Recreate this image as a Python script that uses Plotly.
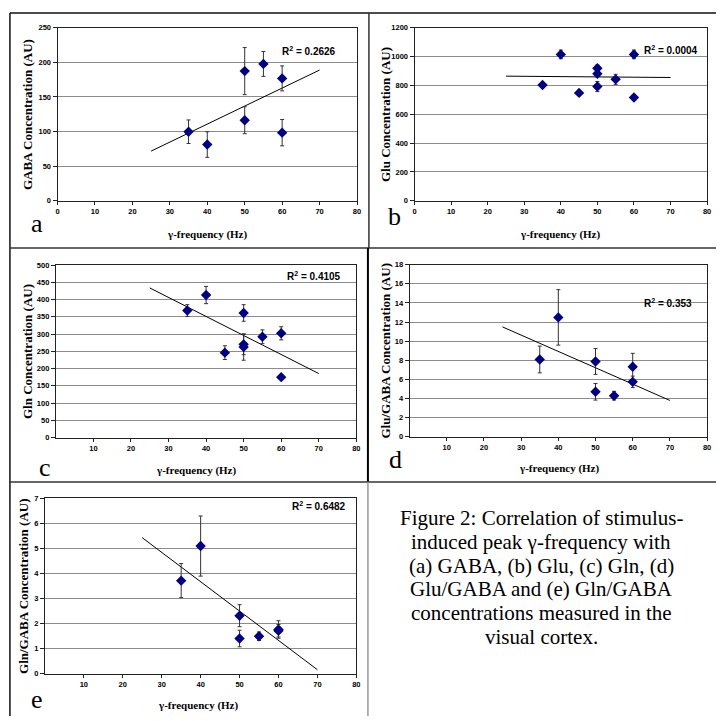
import numpy as np
import plotly.graph_objects as go

W, H = 720, 721

# ---------------- data ----------------
freq_a = [35, 40, 50, 50, 55, 60, 60]
gaba = [99.8, 81.3, 187.3, 116.4, 197.7, 176.8, 98.4]
gaba_err = [17, 18.5, 34, 19.5, 18, 18, 19]

freq_b = [35, 40, 45, 50, 50, 50, 55, 60, 60]
glu = [803, 1015, 748, 919, 881, 792, 842, 1015, 716]
glu_err = [12, 30, 12, 22, 20, 35, 35, 30, 12]

freq_c = [35, 40, 45, 50, 50, 50, 55, 60, 60]
gln = [368, 413, 246, 361, 270, 262, 292, 302, 175]
gln_err = [17, 25, 20, 24, 30, 38, 20, 19, 5]

freq_d = [35, 40, 50, 50, 55, 60, 60]
glu_gaba = [8.09, 12.49, 7.88, 4.71, 4.30, 7.33, 5.75]
glu_gaba_err = [1.4, 2.9, 1.35, 0.87, 0.45, 1.4, 0.6]

freq_e = [35, 40, 50, 50, 55, 60, 60]
gln_gaba = [3.72, 5.10, 2.32, 1.41, 1.50, 1.77, 1.72]
gln_gaba_err = [0.68, 1.2, 0.44, 0.33, 0.17, 0.35, 0.25]

panel_letters = ["a", "b", "c", "d", "e"]
y_titles = ["GABA Concentration (AU)", "Glu Concentration (AU)", "Gln Concentration (AU)",
            "Glu/GABA Concentration (AU)", "Gln/GABA Concentration (AU)"]
x_title = "γ-frequency (Hz)"
r2_values = ["0.2626", "0.0004", "0.4105", "0.353", "0.6482"]

yticks_a = [0, 50, 100, 150, 200, 250]
yticks_b = [0, 200, 400, 600, 800, 1000, 1200]
yticks_c = [0, 50, 100, 150, 200, 250, 300, 350, 400, 450, 500]
yticks_d = [0, 2, 4, 6, 8, 10, 12, 14, 16, 18]
yticks_e = [0, 1, 2, 3, 4, 5, 6, 7]
xticks_full = [0, 10, 20, 30, 40, 50, 60, 70, 80]
xticks_no0 = [10, 20, 30, 40, 50, 60, 70, 80]
trend_span = [25, 70]

caption_lines = ["Figure 2: Correlation of stimulus-",
                 "induced peak γ-frequency with",
                 "(a) GABA, (b) Glu, (c) Gln, (d)",
                 "Glu/GABA and (e) Gln/GABA",
                 "concentrations measured in the",
                 "visual cortex."]

# ---------------- layout specs (pixels) ----------------
panels = [
    dict(x=freq_a, y=gaba, err=gaba_err, yt=yticks_a, xt=xticks_full,
         box=(56, 24, 358, 199.3), ytx=25, letter=(35, 222), xtitle=(207, 233), r2=(67.3, 216)),
    dict(x=freq_b, y=glu, err=glu_err, yt=yticks_b, xt=xticks_full,
         box=(416, 24, 711, 199.3), ytx=386, letter=(396, 215), xtitle=(563, 233), r2=(70, 1042)),
    dict(x=freq_c, y=gln, err=gln_err, yt=yticks_c, xt=xticks_no0,
         box=(54.3, 264.3, 357.3, 439), ytx=25, letter=(43, 469), xtitle=(196, 472), r2=(68.8, 469)),
    dict(x=freq_d, y=glu_gaba, err=glu_gaba_err, yt=yticks_d, xt=xticks_no0,
         box=(411, 264, 711, 438.3), ytx=387, letter=(397, 461), xtitle=(562, 470), r2=(69.5, 13.97)),
    dict(x=freq_e, y=gln_gaba, err=gln_gaba_err, yt=yticks_e, xt=xticks_no0,
         box=(43.3, 500.7, 357.3, 678.3), ytx=21, letter=(35, 704), xtitle=(198, 710), r2=(70.5, 6.71)),
]

def px(x):
    return x / W

def py(y):
    return 1 - y / H

SERIF = "Liberation Serif, Times New Roman, serif"
SANS = "Liberation Sans, Arial, sans-serif"
tickfont = dict(family=SANS, size=7.5, color="black", weight="bold")

fig = go.Figure()
layout = dict(width=W, height=H, margin=dict(l=0, r=0, t=0, b=0),
              paper_bgcolor="white", plot_bgcolor="white", showlegend=False)
annotations = []
shapes = []

for i, p in enumerate(panels):
    sfx = "" if i == 0 else str(i + 1)
    xa, ya = "x" + sfx, "y" + sfx
    l, t, r, b = p["box"]
    xs = np.array(p["x"], dtype=float)
    ys = np.array(p["y"], dtype=float)
    slope, icpt = np.polyfit(xs, ys, 1)
    tx = np.array(trend_span, dtype=float)
    fig.add_trace(go.Scatter(x=tx, y=slope * tx + icpt, mode="lines",
                             line=dict(color="black", width=1), xaxis=xa, yaxis=ya,
                             hoverinfo="skip"))
    fig.add_trace(go.Scatter(x=p["x"], y=p["y"], mode="markers",
                             marker=dict(symbol="diamond", size=8, color="#000080"),
                             error_y=dict(type="data", array=p["err"], color="#333333",
                                          thickness=1, width=2),
                             xaxis=xa, yaxis=ya))
    layout["xaxis" + sfx] = dict(domain=[px(l), px(r)], range=[0, 80], anchor=ya,
                                 tickvals=p["xt"], ticktext=[str(v) for v in p["xt"]],
                                 showgrid=False, zeroline=False, showline=True,
                                 linecolor="#222222", linewidth=1, mirror=True,
                                 ticks="outside", ticklen=3, tickcolor="#222222",
                                 tickfont=tickfont)
    layout["yaxis" + sfx] = dict(domain=[py(b), py(t)], range=[0, p["yt"][-1]], anchor=xa,
                                 tickvals=p["yt"], ticktext=[str(v) for v in p["yt"]],
                                 showgrid=True, gridcolor="#8c8c8c", gridwidth=1,
                                 zeroline=False, showline=True,
                                 linecolor="#222222", linewidth=1, mirror=True,
                                 ticks="outside", ticklen=4, tickcolor="#222222",
                                 tickfont=tickfont)
    annotations.append(dict(text="<b>" + y_titles[i] + "</b>", textangle=-90,
                            x=px(p["ytx"]), y=py((t + b) / 2), xref="paper", yref="paper",
                            xanchor="center", yanchor="middle", showarrow=False,
                            font=dict(family=SERIF, size=13, color="black")))
    annotations.append(dict(text="<b>" + x_title + "</b>",
                            x=px(p["xtitle"][0]), y=py(p["xtitle"][1]), xref="paper", yref="paper",
                            xanchor="center", yanchor="middle", showarrow=False,
                            font=dict(family=SERIF, size=11, color="black")))
    annotations.append(dict(text=panel_letters[i],
                            x=px(p["letter"][0]), y=py(p["letter"][1]), xref="paper", yref="paper",
                            xanchor="center", yanchor="middle", showarrow=False,
                            font=dict(family=SERIF, size=26, color="black")))
    annotations.append(dict(text="<b>R<sup>2</sup> = " + r2_values[i] + "</b>",
                            x=p["r2"][0], y=p["r2"][1], xref=xa, yref=ya,
                            xanchor="center", yanchor="middle", showarrow=False,
                            font=dict(family=SANS, size=10, color="black")))

# caption
cap_x, cap_y0, cap_dy = 544, 520, 24.3
for k, line in enumerate(caption_lines):
    annotations.append(dict(text=line, x=px(cap_x), y=py(cap_y0 + k * cap_dy),
                            xref="paper", yref="paper", xanchor="center", yanchor="middle",
                            showarrow=False, font=dict(family=SERIF, size=21, color="black")))

# frame lines (pixel coordinates)
frame = [
    (8, 9, 720, 9, "#111111", 1.5),
    (8, 9, 8, 721, "#111111", 1.5),
    (370, 9, 370, 247, "#333333", 1.5),
    (8, 247, 720, 247, "#333333", 1.5),
    (369, 247, 369, 484, "#000000", 2),
    (8, 484, 720, 484, "#333333", 1.5),
    (369, 484, 369, 721, "#999999", 1.5),
]
for x0, y0, x1, y1, c, w in frame:
    shapes.append(dict(type="line", xref="paper", yref="paper",
                       x0=px(x0), y0=py(y0), x1=px(x1), y1=py(y1),
                       line=dict(color=c, width=w)))

layout["annotations"] = annotations
layout["shapes"] = shapes
fig.update_layout(**layout)
fig.write_html("out.html", config={"displayModeBar": False},
               post_script="document.body.style.margin='0';document.body.style.padding='0';"
                           "document.body.style.overflow='hidden';")
